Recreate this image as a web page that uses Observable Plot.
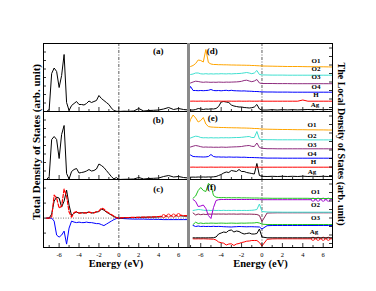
<!DOCTYPE html>
<html><head><meta charset="utf-8">
<script src="https://cdn.jsdelivr.net/npm/d3@7"></script>
<script src="https://cdn.jsdelivr.net/npm/@observablehq/plot@0.6"></script>
<style>
body{margin:0;background:#fff;}
#fig{position:relative;width:376px;height:291px;overflow:hidden;background:#fff;font-family:"Liberation Serif","DejaVu Serif",serif;}
#fig svg{position:absolute;overflow:visible;background:transparent;}
.axlab{position:absolute;font-weight:bold;white-space:nowrap;color:#000;}
</style></head><body><div id="fig"></div>
<script>
// Energy grid (eV)
const energy = [-7.25,-7,-6.75,-6.5,-6.25,-6,-5.75,-5.5,-5.25,-5,-4.75,-4.5,-4.25,-4,-3.75,-3.5,-3.25,-3,-2.75,-2.5,-2.25,-2,-1.75,-1.5,-1.25,-1,-0.75,-0.5,-0.25,0,0.5,1,1.5,2,2.5,3,3.5,4,4.5,5,5.5,6,6.5,7];

// Total DOS panels (arb. units)
const tdosA = [0,2,38,43.5,40,24,36,57,9,1,6,8,10,7,7,6.5,8,10.5,9,10,11,16,13,11,9,7,3.5,1,0.3,0,0.3,0.2,0.5,3,0.5,1,1.2,1.5,2.5,4,2,3,2,1.5];
const tdosB = [0,3,40,43,40,21,45,54,6,0.5,8,10,11,6.5,7,7.5,8.5,10,8.5,9,10.5,15.5,14,12,9,6,3,0.5,2,0,0.2,0.3,0.5,2,0.5,1,1.2,1.5,3,4,2.5,3,2,1.5];
const tdosCblack = [0,0,4,17,21,20,11,17,28,13,2.5,5,6,5,5.5,5,5.5,6,5,5.5,6,6.5,9,8,6,4.5,3,1.5,0.5,0,0.3,0.5,0.6,0.8,0.8,1,1,1.2,1.5,2.5,2,2.5,2,2];
const tdosCred = [0,0,1,23,20,10,12,29,22,6,1,5.5,6.5,5,5,5.5,5,6,5.5,5,6.5,7,10,9,6.5,5,3.5,2,0.5,0,0.5,0.6,0.7,0.8,1,1,1.2,1.5,2,2.5,2.5,3,2.5,2.5];
const tdosCblue = [0,0,0,-3,-17,-19,-17,-13,-26,-10,-3,-4,-4.5,-4,-4.5,-4.5,-4,-4.5,-4.5,-5,-5.5,-5.5,-6.5,-7.5,-6,-4.5,-3,-1.5,-0.5,0,-0.5,-0.8,-1,-1,-1,-1.2,-1.2,-1.3,-1.5,-1.5,-1.5,-1.5,-1.5,-1.5];

// Local DOS (d), stacked
const dO1 = [44,45,46,48,51.5,51,49.5,62,49,47.5,47,47,46.8,46.8,46.7,46.7,46.6,46.5,46.5,46.4,46.4,46.3,46.3,46.2,46.2,46,46,45.8,45.7,45.5,45.4,45.3,45.2,45.1,45,45,45,44.9,44.8,44.8,44.7,44.7,44.6,44.5];
const dO2 = [36.5,37,37.5,38.5,38.5,37.7,37.5,37.8,37.5,37.7,37.5,37.7,37.6,37.8,37.7,37.6,37.8,37.6,37.8,37.9,38,38.2,38.6,39,38.5,37.8,38.5,41,37,36.6,36.5,36.4,36.4,36.4,36.3,36.3,36.3,36.3,36.3,36.3,36.3,36.3,36.3,36.3];
const dO3 = [28,28.5,29.5,30.3,30,29.5,29.2,29.5,29.3,29.2,29.3,29.2,29.4,29.3,29.2,29.4,29.3,29.4,29.5,29.6,29.8,30.2,31,31.3,30.5,29.8,30.5,32,28.5,28,28,28,27.9,27.9,27.9,27.8,27.8,27.8,27.8,27.8,27.8,27.8,27.8,27.8];
const dO4 = [19.5,25,21,21,20.8,21,20.8,21,21.2,22,21,20.8,21,20.7,21,21.2,20.8,21.2,20.8,20.7,20.6,20.5,20.6,20.4,20.3,20.2,20,20,19.8,19.6,19.5,19.5,19.4,19.4,19.4,19.3,19.3,19.3,19.3,19.3,19.3,19.3,19.3,19.3];
const dH = [10.3,10.3,10.4,10.3,10.3,10.4,10.3,10.3,10.4,10.3,10.3,10.3,10.4,10.3,10.3,10.3,10.4,10.3,10.3,10.3,10.4,10.3,10.3,10.3,10.4,10.3,10.3,10.3,10.4,10.3,10.3,10.3,10.3,10.3,10.3,10.3,10.3,11.5,10.3,10.3,10.3,10.3,10.3,10.3];
const dAg = [1.2,1.5,1.5,2,3,2.5,2,2.5,2.3,2.7,2.5,3,5,9.5,10,9.5,9,6.5,5.5,5,4.5,4.5,4,3.8,3.5,3.8,4.5,7,2.5,1.5,1.5,1.8,1.5,1.8,1.6,1.8,1.6,1.8,2,1.8,2,1.8,2,1.8];

// Local DOS (e), stacked
const eO1 = [52,60,64.5,61.5,57.5,59,62,55.5,53,52.5,52.3,52.2,52.1,52,52,51.9,51.8,51.8,51.7,51.7,51.6,51.5,51.5,51.4,51.3,51.2,51,51,50.8,50.5,50.3,50.2,50.1,50,50,49.9,49.8,49.8,49.7,49.7,49.6,49.6,49.5,49.5];
const eO2 = [41,41.5,42.5,43.3,43,42,41.7,41.8,41.6,41.8,41.6,41.7,41.6,41.8,41.7,41.8,41.7,41.8,41.9,42,42,42.2,42.5,42.8,43,42,42,48,40.5,40,39.8,39.8,39.7,39.7,39.7,39.7,39.7,39.7,39.6,39.6,39.6,39.6,39.6,39.6];
const eO3 = [32,32.5,33.3,34,33.5,32.8,32.3,32.5,32.3,32.4,32.2,32.3,32.2,32.4,32.3,32.2,32.4,32.5,32.6,32.7,32.8,33,33.5,33.8,34,33.2,33,36.5,32,31.2,30.8,30.8,30.7,30.7,30.7,30.7,30.7,30.7,30.7,30.7,30.7,30.7,30.7,30.7];
const eO4 = [22,24.5,23,22.8,22.7,22.6,22.5,22.6,23,25,23,22.5,22.6,22.4,22.5,22.3,22.5,22.4,22.3,22.4,22.3,22.2,22.3,22.1,22,22,21.9,21.8,21.7,21.6,21.4,21.4,21.4,21.3,21.3,21.3,21.3,21.3,21.3,21.3,21.3,21.3,21.3,21.3];
const eH = [12.3,12.3,12.4,12.3,12.3,12.4,12.3,12.3,12.3,12.4,12.3,12.3,12.3,12.4,12.3,12.3,12.3,12.4,12.3,12.3,12.3,12.4,12.3,12.3,12.3,12.4,12.3,12.3,12.3,12.3,12.3,12.3,12.3,12.3,12.3,12.3,12.3,12.3,12.3,12.3,12.3,12.3,12.3,12.3];
const eAg = [2.3,2.3,2.4,2.3,2.5,2.4,2.5,2.4,2.6,2.5,2.7,3,4,5,6.5,7.5,7,9,8.5,8,10,8,8,7,6.5,6,5.5,16,4,3.2,3,3.2,3,3.2,3,3.2,3,3.3,3,3.2,3,3.2,3,3];

// Local DOS (f), spin-resolved, stacked
const fO1up = [null,null,49.3,51.5,57,60,57,56,64,62,52,50.3,50,49.8,50,49.7,49.9,49.7,49.8,49.7,49.8,49.6,49.7,49.6,49.6,49.5,49.5,49.5,49.4,49.3,49.3,49.2,49.2,49.2,49.2,49.2,49.2,49.2,49.2,49,49,49,49,49];
const fO1dn = [null,null,48,46,41,41.5,42.5,39,32,29,40,47,47.8,48,48,48,48,48,48,48,48,48,48,48,48,48,48,47.9,47.9,47.8,47.8,47.8,47.8,47.8,47.8,47.8,47.8,47.8,47.8,47.8,47.8,47.8,47.8,47.8];
const fO2up = [null,null,37,37.5,38,37.8,37.3,37,37.2,37,37.2,37,37.1,37,37.2,37,37.1,37,37.2,37,37.1,37,37.1,37,37.1,37.2,37.5,38,43.5,36,35.5,35.4,35.4,35.3,35.3,35.3,35.3,35.3,35.3,35.3,35.3,35.3,35.3,35.3];
const fO2dn = [null,null,34.5,32.5,33.5,32.8,33.3,33,33.5,33.3,33.5,33.4,33.5,33.4,33.5,33.3,33.5,33.4,33.5,33.3,33.4,33.5,33.4,33.3,33.4,33.3,33.2,33,32,26,34.5,34.6,34.7,34.7,34.7,34.7,34.7,34.7,34.7,34.7,34.7,34.7,34.7,34.7];
const fO3up = [null,null,23,25.3,24,24.5,24,24.3,24.2,24.4,24.3,24.2,24.3,24.4,24.3,24.2,24.3,24.4,24.3,24.2,24.3,24.4,24.3,24.4,24.5,24.5,24.6,25,24.5,23.3,23,23,23,23,23,23,23,23,23,23,23,23,23,23];
const fO3dn = [null,null,22,21,21.5,21,21.2,21,21.1,21,21.2,21,21.1,21,20.8,20.7,20.6,20.5,20.7,20.8,21,20.9,20.8,20.7,20.8,20.8,20.7,20.6,20.5,18.5,21.8,22,22,22,22,22,22,22,22,22,22,22,22,22];
const fAgUp = [null,null,9.7,9.6,9.7,9.6,9.7,9.6,9.7,9.7,9.8,10.5,13.5,14.5,15.5,15,17,17.5,15.5,16.5,16,14.5,13.5,14,14.5,13.5,13.5,14,18.5,10.5,9.7,9.7,9.7,9.7,9.7,9.7,9.7,9.7,9.7,9.7,9.7,9.7,9.7,9.7];
const fAgDn = [null,null,8.7,8.6,8.7,8.6,8.7,8.6,8.5,8.4,8.3,7.5,5.5,4.8,4.3,2.5,3.5,3.7,2,3.5,4,5,5.5,6.3,6.5,7,7,7,5,1.5,8.2,8.6,8.7,8.7,8.7,8.7,8.7,8.7,8.7,8.7,8.7,8.7,8.7,8.7];

// Tick values and labels
const xLabelTicks = [-6,-4,-2,0,2,4,6];
const xMinorTicks = [-7,-5,-3,-1,1,3,5,7];
const yTicksTot = [8.5,17,25.5,34,42.5,51,59.5];
const yTicksC = [-15,0,15,30];
const yTicksLocal = [4,12.5,21,29.5,38,46.5,55,63.5];
const markersC = [4.5,5,5.5,6];
const markersF = [5,5.5,6,6.5];

const fig = document.getElementById("fig");
const FONT = '"Liberation Serif","DejaVu Serif",serif';
const C = {orange:"#ffa500", cyan:"#40e0d0", plum:"#8e2c7e", blue:"#0000ff", red:"#ff0000", black:"#000", green:"#22c322", violet:"#a000d0", maroon:"#882255"};

function panel(o) {
  const mb = o.mb || 0;
  const marks = [];
  if (o.zero) marks.push(Plot.ruleY([0], {stroke:"#555", strokeWidth:0.8, strokeDasharray:"1,1.5"}));
  marks.push(Plot.ruleX([0], {stroke:"#333", strokeWidth:0.8, strokeDasharray:"3,1.5,1,1.5"}));
  for (const s of o.series) {
    const data = energy.map((e,i)=>({e, v:s.values[i]})).filter(d => d.v != null);
    marks.push(Plot.line(data, {x:"e", y:"v", stroke:s.color, strokeWidth:s.width || 1, strokeDasharray:s.dash, clip:true}));
    if (s.markers) marks.push(Plot.dot(data.filter(d => s.markers.includes(d.e)), {x:"e", y:"v", r:1.6, stroke:s.color, fill:"white", strokeWidth:0.8}));
  }
  marks.push(Plot.tickX(xLabelTicks, {x:d=>d, insetTop:o.h-4, stroke:"#000", strokeWidth:0.8}));
  marks.push(Plot.tickX(xMinorTicks.filter(t => t > o.xd[0] && t < o.xd[1]), {x:d=>d, insetTop:o.h-2, stroke:"#000", strokeWidth:0.8}));
  if (o.side === "left") marks.push(Plot.tickY(o.yt, {y:d=>d, insetRight:o.w-3, stroke:"#000", strokeWidth:0.8}));
  else marks.push(Plot.tickY(o.yt, {y:d=>d, insetLeft:o.w-3, stroke:"#000", strokeWidth:0.8}));
  marks.push(Plot.frame({stroke:"#000", strokeWidth:1}));
  marks.push(Plot.text([o.tag], {frameAnchor:"top-left", dx:o.tagPos[0], dy:o.tagPos[1], textAnchor:"middle", lineAnchor:"middle", fontWeight:"bold", fontSize:9}));
  if (o.labels) marks.push(Plot.text(o.labels, {x:"e", y:"h", text:"t", fontWeight:"bold", fontSize:7, textAnchor:"middle", lineAnchor:"middle"}));
  if (mb) {
    marks.push(Plot.text(xLabelTicks, {x:d=>d, text:d=>String(d), frameAnchor:"bottom", dy:7, fontSize:6.5, textAnchor:"middle", lineAnchor:"middle"}));
    marks.push(Plot.text(["Energy (eV)"], {frameAnchor:"bottom", dy:16.5, fontWeight:"bold", fontSize:10.5, textAnchor:"middle", lineAnchor:"middle"}));
  }
  const svg = Plot.plot({
    width:o.w, height:o.h + mb,
    marginTop:0, marginLeft:0, marginRight:0, marginBottom:mb,
    x:{domain:o.xd, axis:null}, y:{domain:o.yd, axis:null},
    style:{overflow:"visible", background:"transparent", fontFamily:FONT, fontSize:"6.5px", color:"#000"},
    marks
  });
  svg.style.position = "absolute";
  svg.style.left = o.x0 + "px";
  svg.style.top = o.y0 + "px";
  fig.appendChild(svg);
}

const LX = [-7.57, 7.0], RX = [-7.2, 6.91];
panel({x0:43, y0:43, w:145, h:68, xd:LX, yd:[0,68], side:"left", yt:yTicksTot, tag:"(a)", tagPos:[114.7,7.7],
  series:[{values:tdosA, color:C.black}]});
panel({x0:43, y0:111, w:145, h:68, xd:LX, yd:[0,68], side:"left", yt:yTicksTot, tag:"(b)", tagPos:[114.7,8.3],
  series:[{values:tdosB, color:C.black}]});
panel({x0:43, y0:179, w:145, h:68, mb:26, xd:LX, yd:[-29.4,38.6], side:"left", yt:yTicksC, tag:"(c)", tagPos:[114.7,10], zero:true,
  series:[{values:tdosCblue, color:C.blue}, {values:tdosCblack, color:C.black}, {values:tdosCred, color:C.red, dash:"3.5,1.8", width:1.2, markers:markersC}]});

panel({x0:188, y0:43, w:144, h:68, xd:RX, yd:[0,68], side:"right", yt:yTicksLocal, tag:"(d)", tagPos:[23.7,7.7],
  series:[{values:dAg, color:C.black},{values:dH, color:C.red},{values:dO4, color:C.blue},{values:dO3, color:C.plum},{values:dO2, color:C.cyan},{values:dO1, color:C.orange}],
  labels:[{e:5.3,h:50.5,t:"O1"},{e:5.3,h:43,t:"O2"},{e:5.3,h:34.3,t:"O3"},{e:5.3,h:25,t:"O4"},{e:5.3,h:17,t:"H"},{e:5.2,h:6.7,t:"Ag"}]});
panel({x0:188, y0:111, w:144, h:68, xd:RX, yd:[0,68], side:"right", yt:yTicksLocal, tag:"(e)", tagPos:[24.3,6.3],
  series:[{values:eAg, color:C.black},{values:eH, color:C.red},{values:eO4, color:C.blue},{values:eO3, color:C.plum},{values:eO2, color:C.cyan},{values:eO1, color:C.orange}],
  labels:[{e:4.9,h:55,t:"O1"},{e:4.9,h:44,t:"O2"},{e:4.9,h:34.7,t:"O3"},{e:4.9,h:25.7,t:"O4"},{e:5.05,h:17.3,t:"H"},{e:4.9,h:7.3,t:"Ag"}]});
panel({x0:188, y0:179, w:144, h:68, mb:26, xd:RX, yd:[0,68], side:"right", yt:yTicksLocal, tag:"(f)", tagPos:[23,7.7],
  series:[{values:fAgDn, color:C.red, markers:markersF},{values:fAgUp, color:C.black},{values:fO3dn, color:C.blue},{values:fO3up, color:C.green},{values:fO2dn, color:C.maroon},{values:fO2up, color:C.cyan},{values:fO1dn, color:C.violet, markers:markersF},{values:fO1up, color:C.green}],
  labels:[{e:5.25,h:56,t:"O1"},{e:5.25,h:42.7,t:"O2"},{e:5.25,h:29.3,t:"O3"},{e:5.1,h:16,t:"Ag"}]});

// column divider
const div = document.createElement("div");
div.style.cssText = "position:absolute;left:187px;top:43px;width:2.5px;height:204px;background:#8a8a8a;";
fig.appendChild(div);

function axisLabel(text, cx, cy, rot, size) {
  const d = document.createElement("div");
  d.className = "axlab";
  d.textContent = text;
  d.style.left = cx + "px"; d.style.top = cy + "px"; d.style.fontSize = size + "px";
  d.style.transform = `translate(-50%,-50%) rotate(${rot}deg)`;
  fig.appendChild(d);
}
axisLabel("Total Density of States (arb. unit)", 35.5, 142, -90, 11);
axisLabel("The Local Density of States (arb. unit)", 340.5, 144, 90, 10);
</script></body></html>
